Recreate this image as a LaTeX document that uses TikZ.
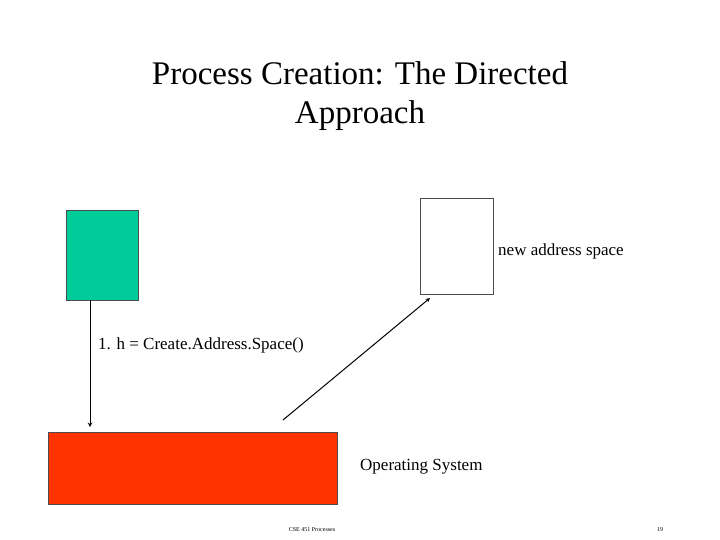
\documentclass[tikz,border=0pt]{standalone}
\usepackage{fontspec}
\setmainfont{Liberation Serif}
\definecolor{boxgreen}{RGB}{0,204,153}
\definecolor{boxred}{RGB}{255,51,0}
\tikzset{
  block/.style={draw=black!70, line width=0.6pt, inner sep=0pt},
  label/.style={font=\fontsize{17}{20}\selectfont, inner sep=0pt},
  call/.style={->, >=stealth, line width=1pt}
}
\begin{document}
\begin{tikzpicture}[x=1pt, y=-1pt]
  \useasboundingbox (0,0) rectangle (720,540);

  % title
  \node[align=center, font=\fontsize{33}{39}\selectfont] (title) at (360,96)
    {Process Creation: The Directed\\Approach};

  % blocks
  \node[block, fill=boxgreen, minimum width=72pt, minimum height=90pt] (proc) at (102,255) {};
  \node[block, fill=white, minimum width=73pt, minimum height=96pt] (space) at (456.5,246) {};
  \node[block, fill=boxred, minimum width=289pt, minimum height=72pt] (os) at (192.5,468) {};

  % labels
  \node[label, anchor=west] (spacelbl) at (498,251) {new address space};
  \node[label, anchor=west] (calllbl) at (98,345) {1. h = Create.Address.Space()};
  \node[label, anchor=west] (oslbl) at (360,467) {Operating System};

  % connectors
  \coordinate (from) at (283,420);
  \draw[call] (proc.south -| 90,0) -- (90,427);
  \draw[call] (from) -- (430,298);

  % footer
  \node[font=\fontsize{6}{7}\selectfont, inner sep=0pt] (footer) at (312,530) {CSE 451 Processes};
  \node[font=\fontsize{6}{7}\selectfont, inner sep=0pt] (page) at (660,530) {19};
\end{tikzpicture}
\end{document}
